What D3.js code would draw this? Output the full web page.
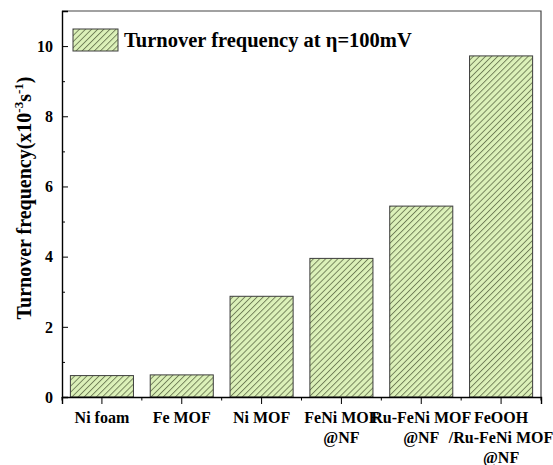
<!DOCTYPE html>
<html>
<head>
<meta charset="utf-8">
<script src="https://cdn.jsdelivr.net/npm/d3@7"></script>
<style>
  body { margin: 0; background: #fff; }
  svg { display: block; font-family: "Liberation Serif", "Times New Roman", serif; font-weight: bold; }
</style>
</head>
<body>
<div id="chart"></div>
<script>
// data
const categories = ["Ni foam", "Fe MOF", "Ni MOF", "FeNi MOF", "Ru-FeNi MOF", "FeOOH"];
const categoryLines = [
  ["Ni foam"],
  ["Fe MOF"],
  ["Ni MOF"],
  ["FeNi MOF", "@NF"],
  ["Ru-FeNi MOF", "@NF"],
  ["FeOOH", "/Ru-FeNi MOF", "@NF"],
];
const tofValues = [0.61, 0.63, 2.87, 3.95, 5.44, 9.72];
const yMajorTicks = [0, 2, 4, 6, 8, 10];
const yMinorTicks = [1, 3, 5, 7, 9];
const legendLabel = "Turnover frequency at η=100mV";

const width = 553, height = 465;
const margin = { top: 11, right: 12, bottom: 68, left: 62 };
const innerW = width - margin.left - margin.right,
  innerH = height - margin.top - margin.bottom;

const svg = d3.select("#chart").append("svg")
  .attr("width", width).attr("height", height);

const defs = svg.append("defs");
const pat = defs.append("pattern")
  .attr("id", "hatch")
  .attr("patternUnits", "userSpaceOnUse")
  .attr("width", 4.3).attr("height", 4.3)
  .attr("patternTransform", "rotate(45)");
pat.append("rect").attr("width", 4.3).attr("height", 4.3).attr("fill", "#dcf1b9");
pat.append("line")
  .attr("x1", 0.5).attr("y1", 0).attr("x2", 0.5).attr("y2", 4.3)
  .attr("stroke", "#56633f").attr("stroke-width", 0.75);

const g = svg.append("g").attr("transform", `translate(${margin.left},${margin.top})`);

const x = d3.scaleBand().domain(categories).range([0, innerW]).paddingInner(0.21).paddingOuter(0.105);
const xStep = d3.scaleBand().domain(categories).range([0, innerW]);
const y = d3.scaleLinear().domain([0, 11]).range([innerH, 0]);

// bars
g.selectAll("rect.bar")
  .data(categories)
  .join("rect")
  .attr("class", "bar")
  .attr("x", d => x(d))
  .attr("width", x.bandwidth())
  .attr("y", (d, i) => y(tofValues[i]))
  .attr("height", (d, i) => y(0) - y(tofValues[i]))
  .attr("fill", "url(#hatch)")
  .attr("stroke", "#3d3d3d")
  .attr("stroke-width", 1);

// frame top / right
g.append("path")
  .attr("d", `M0,0H${innerW}V${innerH}`)
  .attr("fill", "none").attr("stroke", "#444").attr("stroke-width", 1.2);

// y axis (ticks inside)
const yAxis = g.append("g")
  .call(d3.axisRight(y).tickValues(yMajorTicks).tickSize(6).tickFormat(""));
yAxis.select(".domain").attr("stroke-width", 1.4);
g.append("g")
  .call(d3.axisRight(y).tickValues(yMinorTicks).tickSize(3).tickFormat(""))
  .select(".domain").remove();
g.selectAll(".ylab")
  .data(yMajorTicks)
  .join("text")
  .attr("class", "ylab")
  .attr("x", -9)
  .attr("y", d => y(d))
  .attr("dy", "0.36em")
  .attr("text-anchor", "end")
  .style("font-size", "16px")
  .text(d => d);

// x axis (ticks outside)
const xAxis = g.append("g")
  .attr("transform", `translate(0,${innerH})`)
  .call(d3.axisBottom(x).tickSize(7).tickFormat(""));
xAxis.select(".domain").attr("stroke-width", 1.4);
const bounds = categories.map(d => xStep(d)).concat([innerW]);
g.append("g")
  .attr("transform", `translate(0,${innerH})`)
  .selectAll("line")
  .data(bounds)
  .join("line")
  .attr("x1", d => d).attr("x2", d => d)
  .attr("y1", 0).attr("y2", 3.5)
  .attr("stroke", "#000");

categories.forEach((c, i) => {
  const t = g.append("text")
    .attr("x", x(c) + x.bandwidth() / 2)
    .attr("y", innerH + 26)
    .attr("text-anchor", "middle")
    .style("font-size", "16px");
  categoryLines[i].forEach((line, j) => {
    t.append("tspan")
      .attr("x", x(c) + x.bandwidth() / 2)
      .attr("dy", j === 0 ? 0 : 20)
      .text(line);
  });
});

// y title
const yt = svg.append("text")
  .attr("transform", `translate(31,${margin.top + innerH / 2 - 6}) rotate(-90)`)
  .attr("text-anchor", "middle")
  .style("font-size", "20px");
yt.append("tspan").text("Turnover frequency(x10");
yt.append("tspan").attr("dy", -8).style("font-size", "13px").text("-3");
yt.append("tspan").attr("dy", 8).text("s");
yt.append("tspan").attr("dy", -8).style("font-size", "13px").text("-1");
yt.append("tspan").attr("dy", 8).text(")");

// legend
const leg = svg.append("g").attr("transform", "translate(73,29)");
leg.append("rect")
  .attr("width", 45).attr("height", 22)
  .attr("fill", "url(#hatch)")
  .attr("stroke", "#3d3d3d");
leg.append("text")
  .attr("x", 51).attr("y", 18)
  .style("font-size", "20.5px")
  .text(legendLabel);
</script>
</body>
</html>
